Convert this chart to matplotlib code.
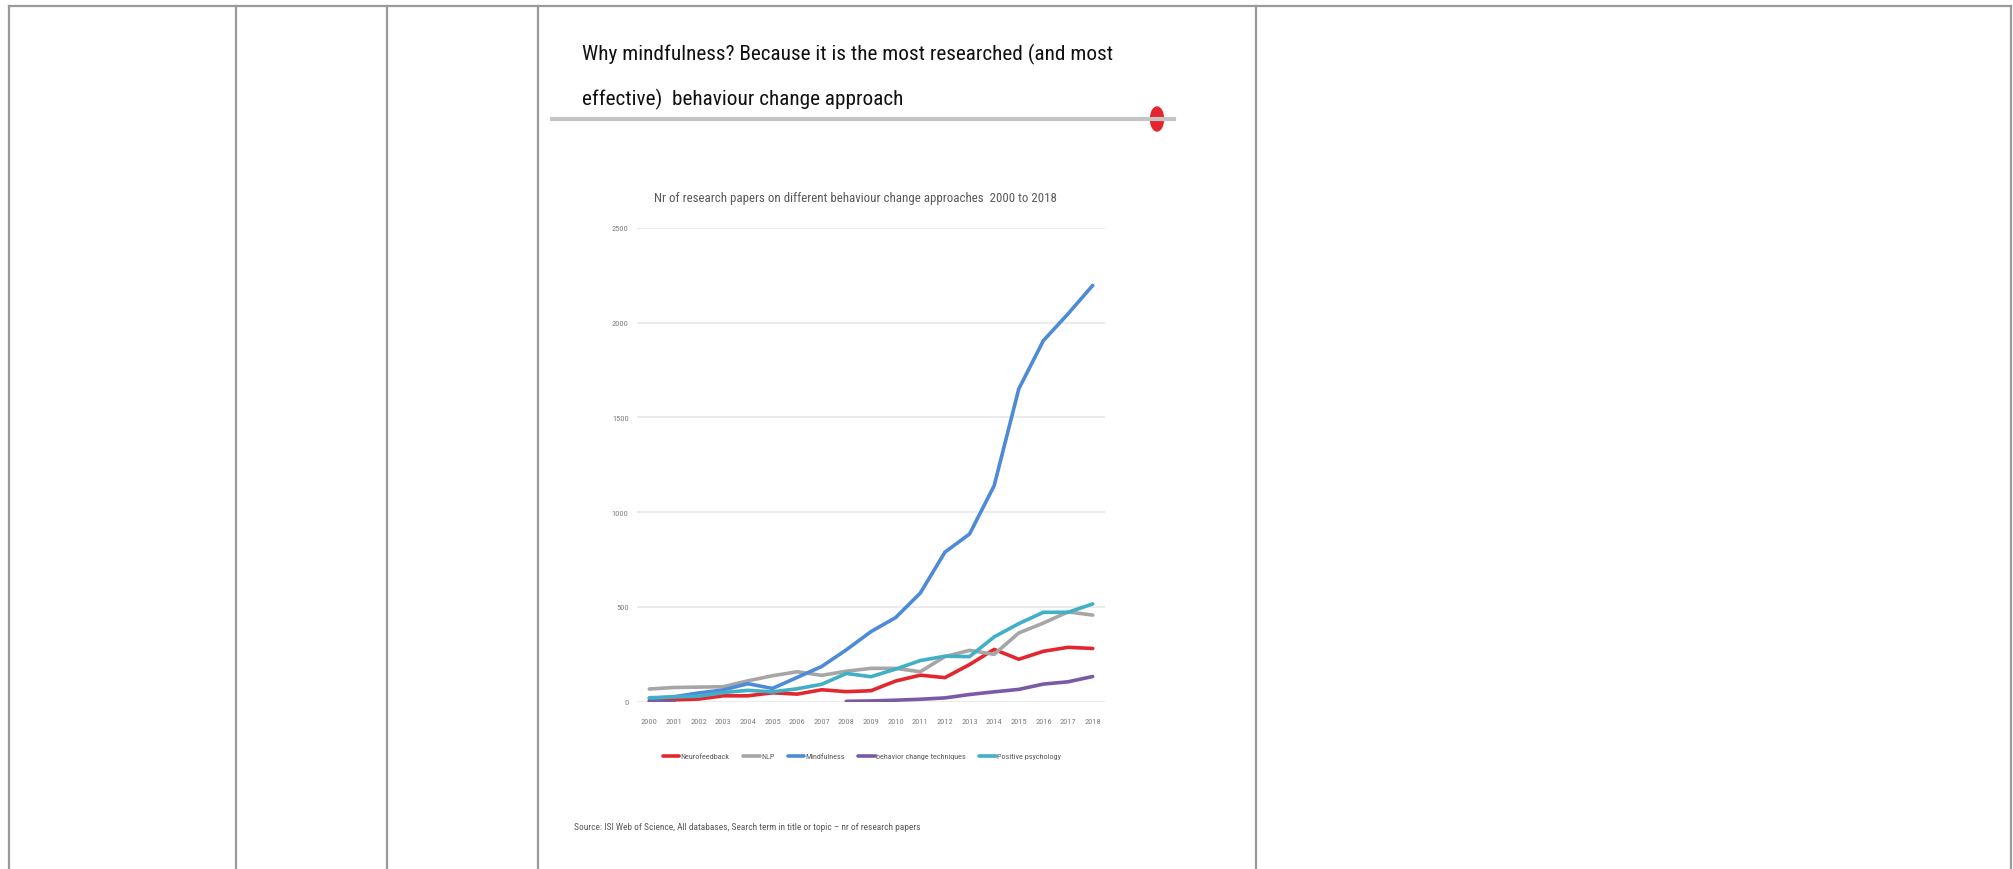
import numpy as np
import matplotlib.pyplot as plt
from matplotlib.lines import Line2D
from matplotlib.patches import Ellipse

# data
years = [str(y) for y in range(2000, 2019)]
neurofeedback = [5, 10, 14, 31, 31, 47, 40, 63, 53, 58, 109, 140, 127, 196, 276, 224, 266, 287, 281]
nlp = [67, 75, 77, 79, 110, 137, 158, 139, 161, 176, 176, 158, 238, 271, 250, 363, 415, 474, 457]
mindfulness = [17, 26, 46, 62, 95, 70, 128, 186, 274, 370, 444, 573, 789, 885, 1140, 1651, 1906, 2047, 2197]
nan = np.nan
behavior = [0, 0, nan, nan, nan, nan, nan, nan, 2, 4, 8, 13, 20, 38, 52, 65, 93, 105, 133]
positive = [21, 25, 29, 48, 60, 52, 68, 92, 149, 132, 172, 217, 240, 238, 342, 412, 472, 472, 516]

series_names = ["Neurofeedback", "NLP", "Mindfulness", "behavior change techniques", "Positive psychology"]
series_colors = ["#e3272e", "#a6a6a6", "#4d8bd8", "#7a5aa6", "#41afc6"]
y_ticks = [0, 500, 1000, 1500, 2000, 2500]

W, H = 2013, 870
NARROW = ["Liberation Sans Narrow", "Roboto Condensed", "DejaVu Sans"]
STRETCH = "condensed"


def fx(x):
    return x / W


def fy(y):
    return 1 - y / H


fig = plt.figure(figsize=(W / 100, H / 100), dpi=100)
fig.patch.set_facecolor("white")
renderer = fig.canvas.get_renderer()


def fit(artist, width_px, texts):
    # scale font size so the drawn text spans the width seen in the picture
    w = artist.get_window_extent(renderer).width
    k = width_px / w
    for t in texts:
        t.set_fontsize(t.get_fontsize() * k)


# table grid lines
grid_c = "#9a9a9a"
fig.add_artist(Line2D([fx(9), fx(2011)], [fy(7), fy(7)], color=grid_c, lw=1.6))
for xv in [9, 236, 387, 538, 1256, 2011]:
    fig.add_artist(Line2D([fx(xv), fx(xv)], [fy(7), fy(870)], color=grid_c, lw=1.6))

# slide title
t1 = fig.text(fx(582), fy(60), "Why mindfulness? Because it is the most researched (and most",
              family=NARROW, fontstretch=STRETCH, fontsize=16, color="#111111", va="baseline", ha="left")
t2 = fig.text(fx(582), fy(105), "effective)  behaviour change approach",
              family=NARROW, fontstretch=STRETCH, fontsize=16, color="#111111", va="baseline", ha="left")
fit(t1, 532, [t1, t2])
fig.add_artist(Line2D([fx(552), fx(1174)], [fy(120), fy(120)], color="#c4c4c4", lw=3))
fig.add_artist(Ellipse((fx(1157), fy(120)), 13 / W, 24 / H, color="#e3262d"))

# chart
ax = fig.add_axes([fx(637), fy(702.7), (1105 - 637) / W, (702.7 - 229) / H])
x = np.arange(len(years))
for vals, name, col in zip([neurofeedback, nlp, mindfulness, behavior, positive], series_names, series_colors):
    ax.plot(x, vals, color=col, lw=2.6, label=name, solid_capstyle="round")

ax.set_xlim(-0.5, len(years) - 0.5)
ax.set_ylim(0, 2500)
ax.set_xticks(x)
ax.set_xticklabels(years)
ax.set_yticks(y_ticks)
ax.set_yticklabels([str(v) for v in y_ticks])
for s in ax.spines.values():
    s.set_visible(False)
ax.grid(axis="y", color="#e6e6e6", lw=1.1)
ax.set_axisbelow(True)
ax.tick_params(length=0, colors="#7f7f7f", labelsize=6)
ax.tick_params(axis="x", pad=11.5)
ax.tick_params(axis="y", pad=6)
labs = ax.get_xticklabels() + ax.get_yticklabels()
for lab in labs:
    lab.set_family(NARROW)
    lab.set_stretch(STRETCH)
fit(ax.get_xticklabels()[0], 17, labs)

ct = fig.text(fx(855), fy(198.5), "Nr of research papers on different behaviour change approaches  2000 to 2018",
              family=NARROW, fontstretch=STRETCH, fontsize=9.3, color="#595959", ha="center", va="center")
fit(ct, 403, [ct])

leg = fig.legend(loc="center", bbox_to_anchor=(fx(862), fy(757)), ncol=5, frameon=False,
                 prop={"family": NARROW, "size": 6, "stretch": STRETCH}, handlelength=2.0,
                 handletextpad=0.15, columnspacing=1.6)
for t in leg.get_texts():
    t.set_color("#595959")
fit(leg, 401, leg.get_texts())

src = fig.text(fx(574), fy(828),
               "Source: ISI Web of Science, All databases, Search term in title or topic – nr of research papers",
               family=NARROW, fontstretch=STRETCH, fontsize=6.3, color="#595959", ha="left", va="center")
fit(src, 345, [src])

fig.savefig("out.png", dpi=100)
